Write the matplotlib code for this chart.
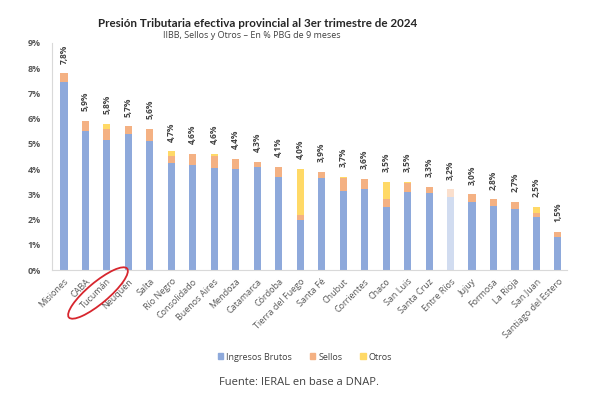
#
# Presion tributaria efectiva provincial - barras apiladas
#

import matplotlib.pyplot as plt
import matplotlib.patches as mpatches
from matplotlib.transforms import IdentityTransform
import numpy as np

plt.rcParams.update(
    {
        "font.family": ["Open Sans", "DejaVu Sans"],
        "font.size": 6.5,
    }
)

provincias = [
    "Misiones", "CABA", "Tucumán", "Neuquén", "Salta", "Río Negro",
    "Consolidado", "Buenos Aires", "Mendoza", "Catamarca", "Córdoba",
    "Tierra del Fuego", "Santa Fé", "Chubut", "Corrientes", "Chaco",
    "San Luis", "Santa Cruz", "Entre Ríos", "Jujuy", "Formosa",
    "La Rioja", "San Juan", "Santiago del Estero",
]
iibb = [7.45, 5.5, 5.15, 5.4, 5.1, 4.25, 4.15, 4.05, 4.0, 4.1, 3.7, 2.0,
        3.65, 3.15, 3.2, 2.5, 3.1, 3.05, 2.9, 2.7, 2.55, 2.4, 2.1, 1.3]
sellos = [0.35, 0.4, 0.45, 0.3, 0.5, 0.25, 0.45, 0.45, 0.4, 0.2, 0.4, 0.2,
          0.25, 0.5, 0.4, 0.3, 0.35, 0.25, 0.3, 0.3, 0.25, 0.3, 0.15, 0.2]
otros = [0.0, 0.0, 0.2, 0.0, 0.0, 0.2, 0.0, 0.1, 0.0, 0.0, 0.0, 1.8,
         0.0, 0.05, 0.0, 0.7, 0.05, 0.0, 0.0, 0.0, 0.0, 0.0, 0.25, 0.0]

c_iibb = "#8EA9DB"
c_sellos = "#F4B183"
c_otros = "#FFD966"

x = np.arange(len(provincias))
iibb = np.array(iibb)
sellos = np.array(sellos)
otros = np.array(otros)
total = iibb + sellos + otros

fig = plt.figure(figsize=(6.04, 3.98), dpi=100)
ax = fig.add_axes([0.086, 0.3216, 0.853, 0.5704])

w = 0.33
b1 = ax.bar(x, iibb, w, color=c_iibb)
b2 = ax.bar(x, sellos, w, bottom=iibb, color=c_sellos)
b3 = ax.bar(x, otros, w, bottom=iibb + sellos, color=c_otros)

# Entre Rios aparece desvanecida
i_er = provincias.index("Entre Ríos")
for bars in (b1, b2, b3):
    bars[i_er].set_alpha(0.4)

for xi, t in zip(x, total):
    ax.annotate("{:.1f}%".format(t).replace(".", ","), (xi, t),
                xytext=(0, 7), textcoords="offset points",
                rotation=90, ha="center", va="bottom",
                fontsize=6, fontweight="bold", color="#404040")

ax.set_xlim(-0.56, len(provincias) - 0.57)
ax.set_ylim(0, 9)
ax.set_yticks(range(0, 10))
ax.set_yticklabels(["{}%".format(v) for v in range(0, 10)],
                   color="#595959", fontweight="bold", fontsize=6.5)
ax.tick_params(axis="y", length=0, pad=8)
ax.set_xticks(x)
ax.set_xticklabels(provincias, rotation=45, ha="right",
                   rotation_mode="anchor", color="#595959", fontsize=6.5)
ax.tick_params(axis="x", length=0, pad=5)

for s in ("top", "right"):
    ax.spines[s].set_visible(False)
ax.spines["left"].set_color("#D9D9D9")
ax.spines["bottom"].set_color("#D9D9D9")

fig.text(0.426, 0.94, "Presión Tributaria efectiva provincial al 3er trimestre de 2024",
         ha="center", va="center", fontsize=8.4, fontweight="bold",
         family=["Lato", "DejaVu Sans"], color="#262626")
fig.text(0.417, 0.912, "IIBB, Sellos y Otros – En % PBG de 9 meses",
         ha="center", va="center", fontsize=6.5, color="#404040")

handles = [mpatches.Patch(color=c_iibb, label="Ingresos Brutos"),
           mpatches.Patch(color=c_sellos, label="Sellos"),
           mpatches.Patch(color=c_otros, label="Otros")]
fig.legend(handles=handles, loc="center", bbox_to_anchor=(0.505, 0.103),
           ncol=3, frameon=False, fontsize=6.5, handlelength=0.6,
           handleheight=0.6, handletextpad=0.3, columnspacing=2.0,
           labelcolor="#404040")

fig.text(0.495, 0.04, "Fuente: IERAL en base a DNAP.", ha="center", va="center",
         fontsize=8, color="#404040")

# marca roja sobre Tucuman (en pixeles)
fig.patches.append(mpatches.Ellipse((98, 398 - 293), 76, 21, angle=40,
                                    transform=IdentityTransform(),
                                    fill=False, edgecolor="#D7262E", linewidth=1.3))

fig.savefig("out.png", dpi=100)
